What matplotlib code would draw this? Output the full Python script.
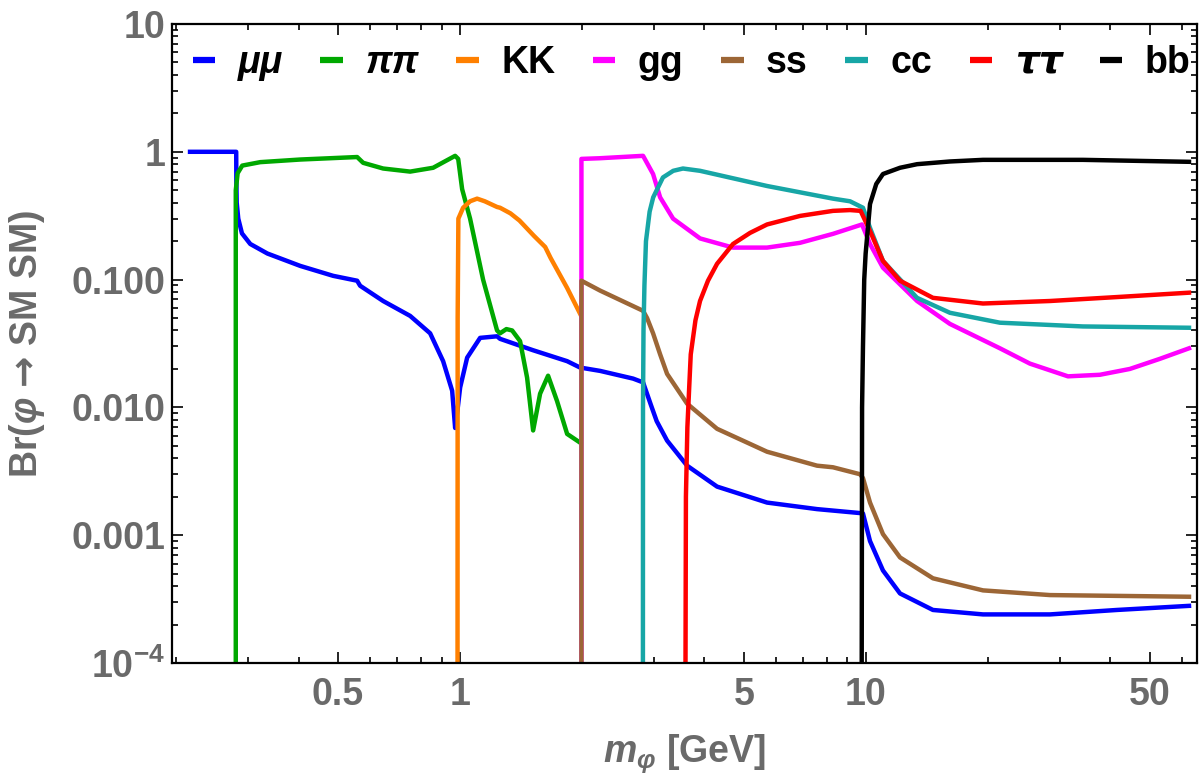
import matplotlib
matplotlib.use("Agg")
import matplotlib.pyplot as plt
from matplotlib.ticker import FixedLocator, FixedFormatter, NullFormatter

plt.rcParams['font.family'] = ['Liberation Sans', 'DejaVu Sans']
plt.rcParams['font.weight'] = 'bold'
plt.rcParams['mathtext.fontset'] = 'custom'
plt.rcParams['mathtext.rm'] = 'Liberation Sans:bold'
plt.rcParams['mathtext.bf'] = 'DejaVu Sans:bold'
plt.rcParams['mathtext.it'] = 'Liberation Sans:italic:bold'

LOW = 1e-5  # below the axis: lines drop out of the frame at thresholds

# ---- data (m in GeV, branching ratio) ----
mumu_m = [0.216, 0.2807, 0.2809, 0.2815, 0.284, 0.29, 0.304, 0.335, 0.4036, 0.4866, 0.5575,
          0.567, 0.646, 0.753, 0.8435, 0.908, 0.9557, 0.972, 0.985, 1.0, 1.0405, 1.12, 1.233,
          1.254, 1.513, 1.835, 1.975, 2.213, 2.668, 2.823, 2.87, 2.95, 3.05, 3.235, 3.624, 4.296,
          5.704, 7.574, 9.665, 9.83, 10.23, 11.01, 12.13, 14.62, 19.42, 28.4, 41.5, 62.5]
mumu_br = [1.0, 1.0, 0.6, 0.4, 0.3, 0.23, 0.19, 0.16, 0.128, 0.107, 0.098,
           0.0895, 0.068, 0.052, 0.038, 0.023, 0.0135, 0.0069, 0.0095, 0.0143, 0.0245, 0.035, 0.036,
           0.0344, 0.028, 0.023, 0.0205, 0.0193, 0.0168, 0.0157, 0.0135, 0.0105, 0.0078, 0.0055, 0.0035, 0.0024,
           0.0018, 0.0016, 0.00149, 0.00148, 0.0009, 0.00053, 0.00035, 0.00026, 0.00024, 0.00024, 0.00026, 0.00028]

pipi_m = [0.2800, 0.2800, 0.283, 0.2905, 0.3217, 0.4036, 0.5575, 0.5768, 0.646, 0.753, 0.858,
          0.972, 0.989, 1.0114, 1.058, 1.139, 1.233, 1.254, 1.30, 1.343, 1.405, 1.462, 1.513, 1.574,
          1.647, 1.733, 1.835, 1.975]
pipi_br = [LOW, 0.5, 0.68, 0.78, 0.83, 0.87, 0.91, 0.82, 0.74, 0.70, 0.75,
           0.93, 0.88, 0.51, 0.30, 0.10, 0.040, 0.038, 0.041, 0.040, 0.033, 0.0171, 0.0066, 0.0128,
           0.0177, 0.0112, 0.0062, 0.0053]

kk_m = [0.985, 0.986, 0.99, 1.017, 1.058, 1.101, 1.15, 1.233, 1.254, 1.33, 1.40, 1.52, 1.62,
        1.67, 1.835, 1.975]
kk_br = [LOW, 0.05, 0.30, 0.365, 0.41, 0.43, 0.41, 0.37, 0.365, 0.33, 0.29, 0.22, 0.18,
         0.148, 0.086, 0.054]

gg_m = [1.99, 1.99, 2.2, 2.823, 2.988, 3.11, 3.347, 3.901, 4.703, 5.704, 6.878, 8.292, 9.775,
        10.23, 11.01, 13.36, 16.10, 21.38, 25.35, 31.45, 37.7, 44.7, 53.0, 62.5]
gg_br = [LOW, 0.88, 0.89, 0.93, 0.67, 0.44, 0.30, 0.21, 0.178, 0.178, 0.194, 0.228, 0.27,
         0.19, 0.124, 0.068, 0.045, 0.029, 0.022, 0.0175, 0.018, 0.020, 0.024, 0.029]

ss_m = [1.99, 1.99, 2.213, 2.823, 2.888, 2.988, 3.11, 3.235, 3.624, 4.296, 5.704, 7.574, 8.292,
        9.665, 9.83, 10.23, 11.01, 12.13, 14.62, 19.42, 28.4, 62.5]
ss_br = [LOW, 0.098, 0.082, 0.057, 0.05, 0.038, 0.026, 0.0183, 0.0107, 0.0068, 0.0045, 0.0035, 0.0034,
         0.0030, 0.0028, 0.0018, 0.00102, 0.00067, 0.00046, 0.00037, 0.00034, 0.00033]

cc_m = [2.82, 2.822, 2.83, 2.845, 2.87, 2.93, 2.99, 3.16, 3.35, 3.54, 3.9, 5.704, 8.292, 9.134,
        9.83, 10.23, 11.01, 13.36, 16.10, 21.38, 34.23, 62.5]
cc_br = [LOW, 0.01, 0.04, 0.09, 0.2, 0.34, 0.44, 0.63, 0.71, 0.74, 0.71, 0.54, 0.43, 0.41,
         0.365, 0.254, 0.14, 0.072, 0.055, 0.046, 0.043, 0.042]

tautau_m = [3.585, 3.6, 3.63, 3.67, 3.70, 3.8, 3.9, 4.08, 4.296, 4.703, 5.18, 5.704, 6.878, 8.292,
            9.134, 9.7, 10.23, 11.01, 12.13, 14.62, 19.42, 28.4, 41.5, 62.5]
tautau_br = [LOW, 0.002, 0.007, 0.015, 0.026, 0.048, 0.068, 0.098, 0.133, 0.19, 0.232, 0.27, 0.315,
             0.345, 0.35, 0.345, 0.24, 0.14, 0.098, 0.072, 0.065, 0.068, 0.073, 0.079]

bb_m = [9.75, 9.78, 9.83, 9.9, 9.98, 10.23, 10.6, 11.01, 12.13, 13.36, 16.1, 19.42, 34.23, 62.5]
bb_br = [LOW, 0.01, 0.03, 0.1, 0.16, 0.39, 0.56, 0.67, 0.75, 0.80, 0.84, 0.865, 0.865, 0.835]

# label, masses, ratios, colour, italic label?
channels = [
    ("μμ", mumu_m, mumu_br, "#0000ff", True),
    ("ππ", pipi_m, pipi_br, "#00a800", True),
    ("KK", kk_m, kk_br, "#ff8000", False),
    ("gg", gg_m, gg_br, "#ff00ff", False),
    ("ss", ss_m, ss_br, "#9c6636", False),
    ("cc", cc_m, cc_br, "#17a6a6", False),
    ("ττ", tautau_m, tautau_br, "#ff0000", True),
    ("bb", bb_m, bb_br, "#000000", False),
]

x_ticks = [0.5, 1, 5, 10, 50]
x_ticklabels = ["0.5", "1", "5", "10", "50"]
y_ticks = [1e-4, 1e-3, 1e-2, 1e-1, 1, 10]
y_ticklabels = [r"$\mathrm{10^{-4}}$", "0.001", "0.010", "0.100", "1", "10"]

fig = plt.figure(figsize=(12.03, 7.73), dpi=100)
ax = fig.add_axes([172 / 1203, 1 - 663 / 773, 1025 / 1203, 639 / 773])

for name, xs, ys, col, _ in channels:
    ax.plot(xs, ys, color=col, lw=3.2, label=name, solid_joinstyle="round")

ax.set_xscale("log")
ax.set_yscale("log")
ax.set_xlim(0.195, 65.4)
ax.set_ylim(1e-4, 10)

# ticks, Mathematica style
x_minor = [0.2, 0.3, 0.4, 0.6, 0.7, 0.8, 0.9, 2, 3, 4, 6, 7, 8, 9, 20, 30, 40, 60]
y_minor = [k * 10.0 ** e for e in range(-4, 1) for k in range(2, 10)]
ax.xaxis.set_major_locator(FixedLocator(x_ticks))
ax.xaxis.set_major_formatter(FixedFormatter(x_ticklabels))
ax.xaxis.set_minor_locator(FixedLocator(x_minor))
ax.xaxis.set_minor_formatter(NullFormatter())
ax.yaxis.set_major_locator(FixedLocator(y_ticks))
ax.yaxis.set_major_formatter(FixedFormatter(y_ticklabels))
ax.yaxis.set_minor_locator(FixedLocator(y_minor))
ax.yaxis.set_minor_formatter(NullFormatter())

ax.tick_params(which="both", direction="in", top=True, right=True, width=1.2, color="black")
ax.tick_params(which="major", length=8)
ax.tick_params(which="minor", length=4)
ax.tick_params(axis="both", which="major", labelsize=27, labelcolor="#6a6a6a")
ax.tick_params(axis="x", pad=10)
ax.tick_params(axis="y", pad=5)
for sp in ax.spines.values():
    sp.set_linewidth(1.6)

ax.set_xlabel(r"$m_{φ}$ [GeV]", fontsize=27, color="#6a6a6a", fontweight="bold")
ax.set_ylabel(r"Br($\mathit{φ}$ $\mathbf{→}$ SM SM)", fontsize=27, color="#6a6a6a",
              fontweight="bold")
ax.xaxis.set_label_coords(0.5, -0.108)
ax.yaxis.set_label_coords(-0.122, 0.5)

leg = ax.legend(loc="upper left", bbox_to_anchor=(0.0, 1.0), ncol=8, frameon=False,
                fontsize=27, handlelength=0.6, handletextpad=0.6, columnspacing=1.0,
                borderaxespad=0.35, borderpad=0.2)
for txt, ch in zip(leg.get_texts(), channels):
    txt.set_fontweight("bold")
    if ch[4]:
        txt.set_fontstyle("italic")
    if ch[0] == "ττ":
        txt.set_family(["DejaVu Sans"])
for ln in leg.get_lines():
    ln.set_linewidth(4.5)
    ln.set_solid_capstyle("butt")

fig.savefig("out.png", dpi=100)
